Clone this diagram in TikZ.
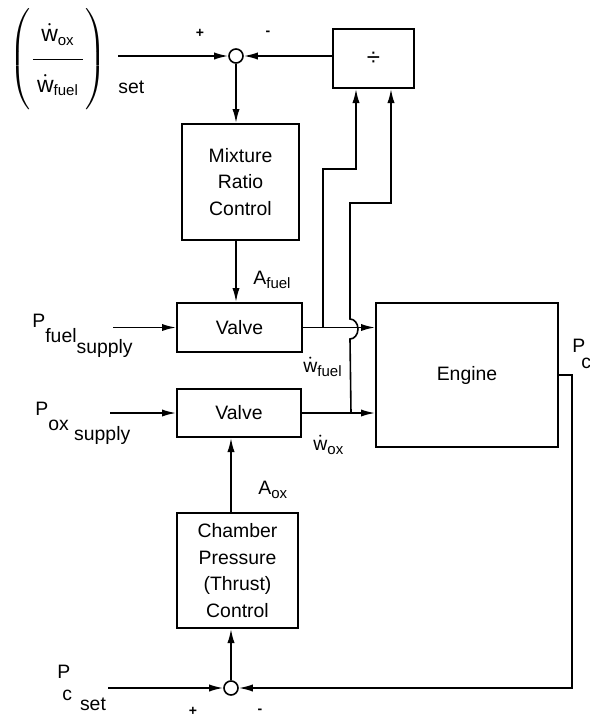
\documentclass[tikz,border=0pt]{standalone}
\usepackage{amsmath}
\usepackage{fontspec}
\setmainfont{Liberation Sans}
\usetikzlibrary{arrows.meta}
\newcommand{\sublow}[1]{\raisebox{-2pt}{\fontsize{7.5}{9}\selectfont #1}}
\newcommand{\ratiosub}[1]{\text{\fontsize{7.5}{9}\selectfont #1}}
\tikzset{
  ctrlbox/.style={draw,line width=1pt,align=center,inner sep=2pt,font=\fontsize{9.7}{13.3}\selectfont},
  sumjct/.style={circle,draw,line width=0.8pt,inner sep=0pt,minimum size=7pt,fill=white},
  sigarr/.style={-{Latex[length=7pt,width=3.6pt]},line width=0.8pt},
  sigline/.style={line width=0.8pt},
  lbl/.style={inner sep=0pt,font=\fontsize{9.7}{12}\selectfont},
  sgn/.style={inner sep=0pt,font=\fontsize{7}{8}\selectfont\bfseries}
}
\begin{document}
\begin{tikzpicture}[x=0.5pt,y=-0.5pt]
  \useasboundingbox (0,0) rectangle (590,719);
  % blocks
  \node[ctrlbox,minimum width=40.5pt,minimum height=29.5pt] (divbox) at (373.5,58.5) {\fontsize{12}{14}\selectfont ÷};
  \node[ctrlbox,minimum width=58.5pt,minimum height=58pt] (mrc) at (240.5,182) {Mixture\\Ratio\\Control};
  \node[ctrlbox,minimum width=62.5pt,minimum height=24.5pt] (fvalve) at (239.5,327.5) {Valve};
  \node[ctrlbox,minimum width=62pt,minimum height=24pt] (ovalve) at (239,413) {Valve};
  \node[ctrlbox,minimum width=91pt,minimum height=72pt] (engine) at (467,375) {Engine};
  \node[ctrlbox,minimum width=60.5pt,minimum height=57.5pt] (chamber) at (237.5,570.5) {Chamber\\Pressure\\(Thrust)\\Control};
  \node[sumjct] (sum1) at (236,56) {};
  \node[sumjct] (sum2) at (231,688) {};

  % inputs and labels
  \node[lbl,font=\fontsize{11.5}{13}\selectfont] (ratio) at (58,59) {$\left(\vphantom{\rule[-21pt]{0pt}{42pt}}\dfrac{\rule[-7pt]{0pt}{0pt}\makebox[25pt]{$\dot{\text{w}}_{\ratiosub{ox}}$}}{\rule{0pt}{15pt}\dot{\text{w}}_{\ratiosub{fuel}}}\right)$};
  \node[lbl,anchor=base west] (ratioset) at (118,93) {set};
  \node[lbl,anchor=base west] (pfuel) at (32,327) {P\raisebox{-7.5pt}{fuel}\raisebox{-13pt}{supply}};
  \node[lbl,anchor=base west] (pox) at (35,415) {P\raisebox{-7.5pt}{ox}\raisebox{-12.5pt}{ supply}};
  \node[lbl,anchor=base west] (pcset) at (57,678) {P\kern-4pt\raisebox{-11pt}{c}\kern4pt\raisebox{-16pt}{set}};
  \node[lbl,anchor=base west] (pc) at (572,352) {P\kern-2pt\raisebox{-8pt}{c}};
  \node[lbl,anchor=base west] (afuel) at (253,284) {A\sublow{fuel}};
  \node[lbl,anchor=base west] (aox) at (258,494) {A\sublow{ox}};
  \node[lbl,anchor=base west] (wfuel) at (303,372) {$\dot{\text{w}}$\sublow{fuel}};
  \node[lbl,anchor=base west] (wox) at (313,450) {$\dot{\text{w}}$\sublow{ox}};
  \node[sgn] (sp1) at (200,33) {+};
  \node[sgn] (sm1) at (268,33) {-};
  \node[sgn] (sp2) at (193,711) {+};
  \node[sgn] (sm2) at (260,711) {-};

  \coordinate (rin) at (118,56);
  \coordinate (fin) at (113,327.5);
  \coordinate (oin) at (110,413);
  \coordinate (pin) at (108,688);

  % signal paths
  \draw[sigarr] (rin) -- (sum1.west);
  \draw[sigarr] (divbox.west |- sum1) -- (sum1.east);
  \draw[sigarr] (sum1.south) -- (sum1 |- mrc.north);
  \draw[sigarr] (mrc.south -| sum1) -- (sum1 |- fvalve.north);
  \draw[sigarr] (fin) -- (fvalve.west);
  \draw[sigarr] (oin) -- (ovalve.west);
  \draw[sigarr] (fvalve.east) -- (engine.west |- fvalve.east);
  \draw[sigarr] (ovalve.east) -- (engine.west |- ovalve.east);
  \draw[sigarr] (fvalve.east) ++(20,0) -- ++(0,-158.5) -| ([xshift=-8.75pt]divbox.south);
  \draw[sigarr] (ovalve.east) ++(49,0) -- (350,339)
    arc[start angle=90,end angle=-90,x radius=8,y radius=10]
    -- (350,203) -| ([xshift=8.75pt]divbox.south);
  \draw[sigarr] (chamber.north -| sum2) -- (sum2 |- ovalve.south);
  \draw[sigarr] (sum2.north) -- (sum2 |- chamber.south);
  \draw[sigarr] (pin) -- (sum2.west);
  \draw[sigarr] (engine.east) -- ++(13,0) |- (sum2.east);
\end{tikzpicture}
\end{document}
